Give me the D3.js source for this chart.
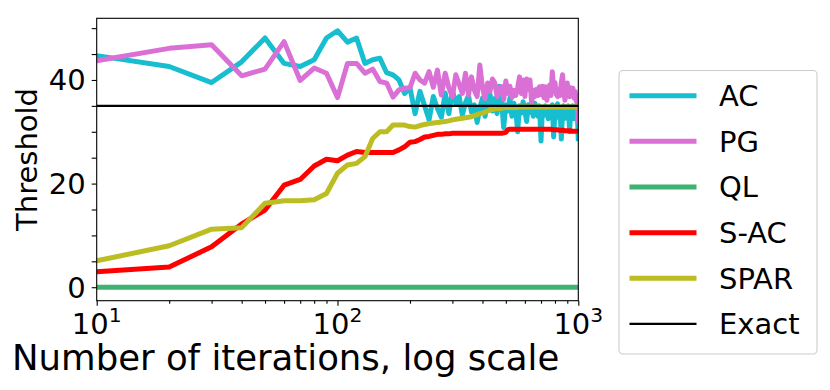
<!DOCTYPE html>
<html>
<head>
<meta charset="utf-8">
<script src="https://cdn.jsdelivr.net/npm/d3@7/dist/d3.min.js"></script>
<style>
  body { margin: 0; background: #fff; }
  svg { display: block; font-family: "DejaVu Sans", sans-serif; }
</style>
</head>
<body>
<svg id="chart" width="830" height="390"></svg>
<script>
// iterations (x), one sample every 10
const iterations = [
  10, 20, 30, 40, 50, 60, 70, 80, 90, 100,
  110, 120, 130, 140, 150, 160, 170, 180, 190, 200,
  210, 220, 230, 240, 250, 260, 270, 280, 290, 300,
  310, 320, 330, 340, 350, 360, 370, 380, 390, 400,
  410, 420, 430, 440, 450, 460, 470, 480, 490, 500,
  510, 520, 530, 540, 550, 560, 570, 580, 590, 600,
  610, 620, 630, 640, 650, 660, 670, 680, 690, 700,
  710, 720, 730, 740, 750, 760, 770, 780, 790, 800,
  810, 820, 830, 840, 850, 860, 870, 880, 890, 900,
  910, 920, 930, 940, 950, 960, 970, 980, 990, 1000,
]

const acValues = [
  44.7, 42.6, 39.5, 43.5, 48.1, 43.2, 42.6, 43.9, 48.1, 49.5,
  47.3, 48.1, 43.2, 43.9, 44.2, 41.4, 41.0, 40.0, 37.4, 38.5,
  33.5, 37.8, 35.0, 32.3, 36.8, 34.5, 32.8, 37.5, 33.5, 38.0,
  35.5, 36.8, 33.2, 35.6, 37.0, 33.8, 35.2, 31.8, 34.6, 36.5,
  33.0, 35.8, 37.2, 34.0, 36.4, 33.5, 38.8, 36.0, 30.8, 35.2,
  34.0, 36.5, 33.0, 35.5, 34.2, 30.0, 35.0, 33.6, 35.8, 34.0,
  32.0, 35.2, 33.8, 34.8, 33.0, 35.5, 34.2, 33.0, 35.0, 28.2,
  34.5, 33.2, 35.0, 33.8, 32.5, 34.8, 33.4, 35.2, 29.0, 34.0,
  33.0, 35.4, 32.8, 34.5, 28.6, 33.6, 35.0, 32.6, 34.2, 33.0,
  35.0, 30.0, 34.2, 33.0, 35.0, 32.5, 34.4, 33.2, 34.6, 28.2,
]

const pgValues = [
  43.7, 46.1, 46.8, 40.8, 42.1, 47.4, 39.9, 42.3, 41.3, 36.6,
  43.2, 43.2, 41.3, 42.1, 39.7, 39.4, 36.7, 38.1, 38.4, 38.5,
  41.3, 40.0, 39.4, 41.6, 38.6, 41.9, 37.1, 41.3, 38.5, 36.8,
  41.0, 39.2, 37.4, 41.3, 37.1, 40.6, 38.0, 36.8, 42.9, 38.5,
  36.4, 39.4, 37.8, 40.2, 39.4, 36.8, 38.4, 38.7, 36.2, 39.8,
  37.4, 38.8, 36.6, 38.0, 37.0, 38.5, 40.6, 37.4, 40.0, 36.8,
  40.2, 38.2, 40.0, 35.5, 38.0, 36.8, 38.2, 37.0, 38.7, 37.2,
  38.8, 36.6, 38.7, 36.1, 37.5, 39.0, 37.0, 41.6, 38.0, 39.5,
  37.2, 36.8, 38.2, 37.0, 39.5, 41.0, 38.0, 36.1, 37.8, 39.4,
  37.0, 36.8, 38.5, 37.2, 38.4, 36.5, 37.8, 36.0, 35.5, 31.5,
]

const sacValues = [
  3.0, 3.9, 7.8, 12.2, 14.9, 19.7, 20.8, 23.4, 24.7, 24.4,
  25.5, 26.2, 26.0, 26.0, 26.0, 26.0, 26.0, 26.5, 27.1, 28.0,
  28.1, 28.5, 29.0, 29.1, 29.3, 29.5, 29.5, 29.6, 29.6, 29.7,
  29.7, 29.7, 29.7, 29.7, 29.7, 29.7, 29.7, 29.7, 29.7, 29.7,
  29.7, 29.7, 29.7, 29.7, 29.7, 29.7, 29.7, 29.7, 29.8, 29.9,
  30.4, 30.5, 30.5, 30.5, 30.5, 30.5, 30.5, 30.5, 30.5, 30.5,
  30.5, 30.5, 30.5, 30.5, 30.5, 30.5, 30.5, 30.5, 30.5, 30.5,
  30.5, 30.5, 30.5, 30.5, 30.5, 30.5, 30.5, 30.4, 30.4, 30.4,
  30.4, 30.4, 30.3, 30.3, 30.3, 30.3, 30.3, 30.2, 30.2, 30.2,
  30.2, 30.2, 30.2, 30.1, 30.1, 30.1, 30.1, 30.1, 30.1, 30.0,
]

const sparValues = [
  5.1, 8.0, 11.2, 11.5, 16.2, 16.7, 16.7, 16.9, 18.1, 22.0,
  23.6, 23.9, 25.2, 28.7, 30.0, 30.0, 31.3, 31.3, 31.3, 31.0,
  30.9, 31.2, 31.4, 31.6, 31.7, 31.8, 31.9, 32.0, 32.1, 32.3,
  32.4, 32.5, 32.6, 32.7, 32.8, 32.9, 33.1, 33.3, 33.5, 33.6,
  33.8, 34.0, 34.2, 34.3, 34.4, 34.5, 34.5, 34.6, 34.6, 34.7,
  34.7, 34.7, 34.7, 34.7, 34.7, 34.7, 34.8, 34.8, 34.8, 34.8,
  34.8, 34.8, 34.8, 34.8, 34.8, 34.8, 34.8, 34.8, 34.8, 34.8,
  34.8, 34.8, 34.8, 34.8, 34.8, 34.8, 34.8, 34.8, 34.8, 34.8,
  34.8, 34.8, 34.8, 34.8, 34.8, 34.8, 34.8, 34.8, 34.8, 34.8,
  34.8, 34.8, 34.8, 34.8, 34.8, 34.8, 34.8, 34.8, 34.8, 34.8,
]

// QL stays at zero over the whole run
const qlIterations = [10, 1000]
const qlValues = [0, 0]

const exactThreshold = 35

const yTicks = [0, 20, 40]
const yMinorTicks = [5, 10, 15, 25, 30, 35, 45, 50]
const xTicks = [10, 100, 1000]
const xTickExponents = ["1", "2", "3"]
const xMinorTicks = [20, 30, 40, 50, 60, 70, 80, 90, 200, 300, 400, 500, 600, 700, 800, 900]

const series = [
  { name: "AC", xs: iterations, ys: acValues, color: "#17becf" },
  { name: "PG", xs: iterations, ys: pgValues, color: "#da70d6" },
  { name: "QL", xs: qlIterations, ys: qlValues, color: "#3cb371" },
  { name: "S-AC", xs: iterations, ys: sacValues, color: "#ff0000" },
  { name: "SPAR", xs: iterations, ys: sparValues, color: "#bcbd22" },
]

const svg = d3.select("#chart")
const pLeft = 96.7, pRight = 578.3, pTop = 18.3, pBottom = 300.7
const FS = 29

const x = d3.scaleLog().domain([10, 1000]).range([pLeft, pRight])
const y = d3.scaleLinear().domain([-2.6, 51.9]).range([pBottom, pTop])

svg.append("rect").attr("width", 830).attr("height", 390).attr("fill", "#fff")

svg.append("defs").append("clipPath").attr("id", "plot_clip")
  .append("rect")
  .attr("x", pLeft).attr("y", pTop)
  .attr("width", pRight - pLeft).attr("height", pBottom - pTop)

const plot = svg.append("g").attr("clip-path", "url(#plot_clip)")

const line = d3.line()
for (let s of series) {
  plot.append("path")
    .attr("d", line(s.xs.map((v, i) => [x(v), y(s.ys[i])])))
    .attr("fill", "none")
    .attr("stroke", s.color)
    .attr("stroke-width", 5)
    .attr("stroke-linejoin", "round")
}

// exact threshold spans the whole axes
plot.append("line")
  .attr("x1", pLeft).attr("x2", pRight)
  .attr("y1", y(exactThreshold)).attr("y2", y(exactThreshold))
  .attr("stroke", "#000")
  .attr("stroke-width", 2.3)

// ticks
const tickStyle = (g) => {
  g.select(".domain").remove()
  g.selectAll("line").attr("stroke", "#000").attr("stroke-width", 1.1)
}

svg.append("g")
  .attr("transform", `translate(0,${pBottom})`)
  .call(d3.axisBottom(x).tickValues(xTicks).tickSize(5).tickSizeOuter(0).tickFormat(""))
  .call(tickStyle)
svg.append("g")
  .attr("transform", `translate(0,${pBottom})`)
  .call(d3.axisBottom(x).tickValues(xMinorTicks).tickSize(3).tickSizeOuter(0).tickFormat(""))
  .call(tickStyle)
svg.append("g")
  .attr("transform", `translate(${pLeft},0)`)
  .call(d3.axisLeft(y).tickValues(yTicks).tickSize(5).tickSizeOuter(0).tickFormat(""))
  .call(tickStyle)
svg.append("g")
  .attr("transform", `translate(${pLeft},0)`)
  .call(d3.axisLeft(y).tickValues(yMinorTicks).tickSize(5).tickSizeOuter(0).tickFormat(""))
  .call(tickStyle)

// tick labels
svg.append("g").selectAll("text")
  .data(yTicks)
  .join("text")
  .attr("x", pLeft - 11)
  .attr("y", (d) => y(d))
  .attr("dy", "0.36em")
  .attr("text-anchor", "end")
  .attr("font-size", FS)
  .attr("fill", "#000")
  .text((d) => d)

const xl = svg.append("g").selectAll("text")
  .data(xTicks)
  .join("text")
  .attr("x", (d) => x(d))
  .attr("y", pBottom + 33)
  .attr("text-anchor", "middle")
  .attr("font-size", FS)
  .attr("fill", "#000")
xl.append("tspan").text("10")
xl.append("tspan")
  .attr("font-size", FS * 0.7)
  .attr("dy", -12)
  .text((d, i) => xTickExponents[i])

// frame
svg.append("rect")
  .attr("x", pLeft).attr("y", pTop)
  .attr("width", pRight - pLeft).attr("height", pBottom - pTop)
  .attr("fill", "none")
  .attr("stroke", "#000")
  .attr("stroke-width", 1.1)

// axis titles
svg.append("text")
  .attr("transform", `translate(37,${(pTop + pBottom) / 2}) rotate(-90)`)
  .attr("text-anchor", "middle")
  .attr("font-size", FS)
  .attr("fill", "#000")
  .text("Threshold")

svg.append("text")
  .attr("x", 12)
  .attr("y", 370)
  .attr("font-size", 35.5)
  .attr("fill", "#000")
  .text("Number of iterations, log scale")

// legend
const legendItems = series.map((s) => ({ name: s.name, color: s.color, width: 5 }))
legendItems.push({ name: "Exact", color: "#000", width: 2.3 })

const lg = svg.append("g")
lg.append("rect")
  .attr("x", 619).attr("y", 70.5)
  .attr("width", 198).attr("height", 283.5)
  .attr("rx", 4)
  .attr("fill", "#fff")
  .attr("fill-opacity", 0.8)
  .attr("stroke", "#cccccc")
  .attr("stroke-width", 1.1)

const rows = lg.selectAll("g.row")
  .data(legendItems)
  .join("g")
  .attr("class", "row")
  .attr("transform", (d, i) => `translate(0,${95.7 + i * 45.65})`)
rows.append("line")
  .attr("x1", 629.5).attr("x2", 696.5)
  .attr("stroke", (d) => d.color)
  .attr("stroke-width", (d) => d.width)
rows.append("text")
  .attr("x", 719)
  .attr("dy", "0.36em")
  .attr("font-size", FS)
  .attr("fill", "#000")
  .text((d) => d.name)
</script>
</body>
</html>
